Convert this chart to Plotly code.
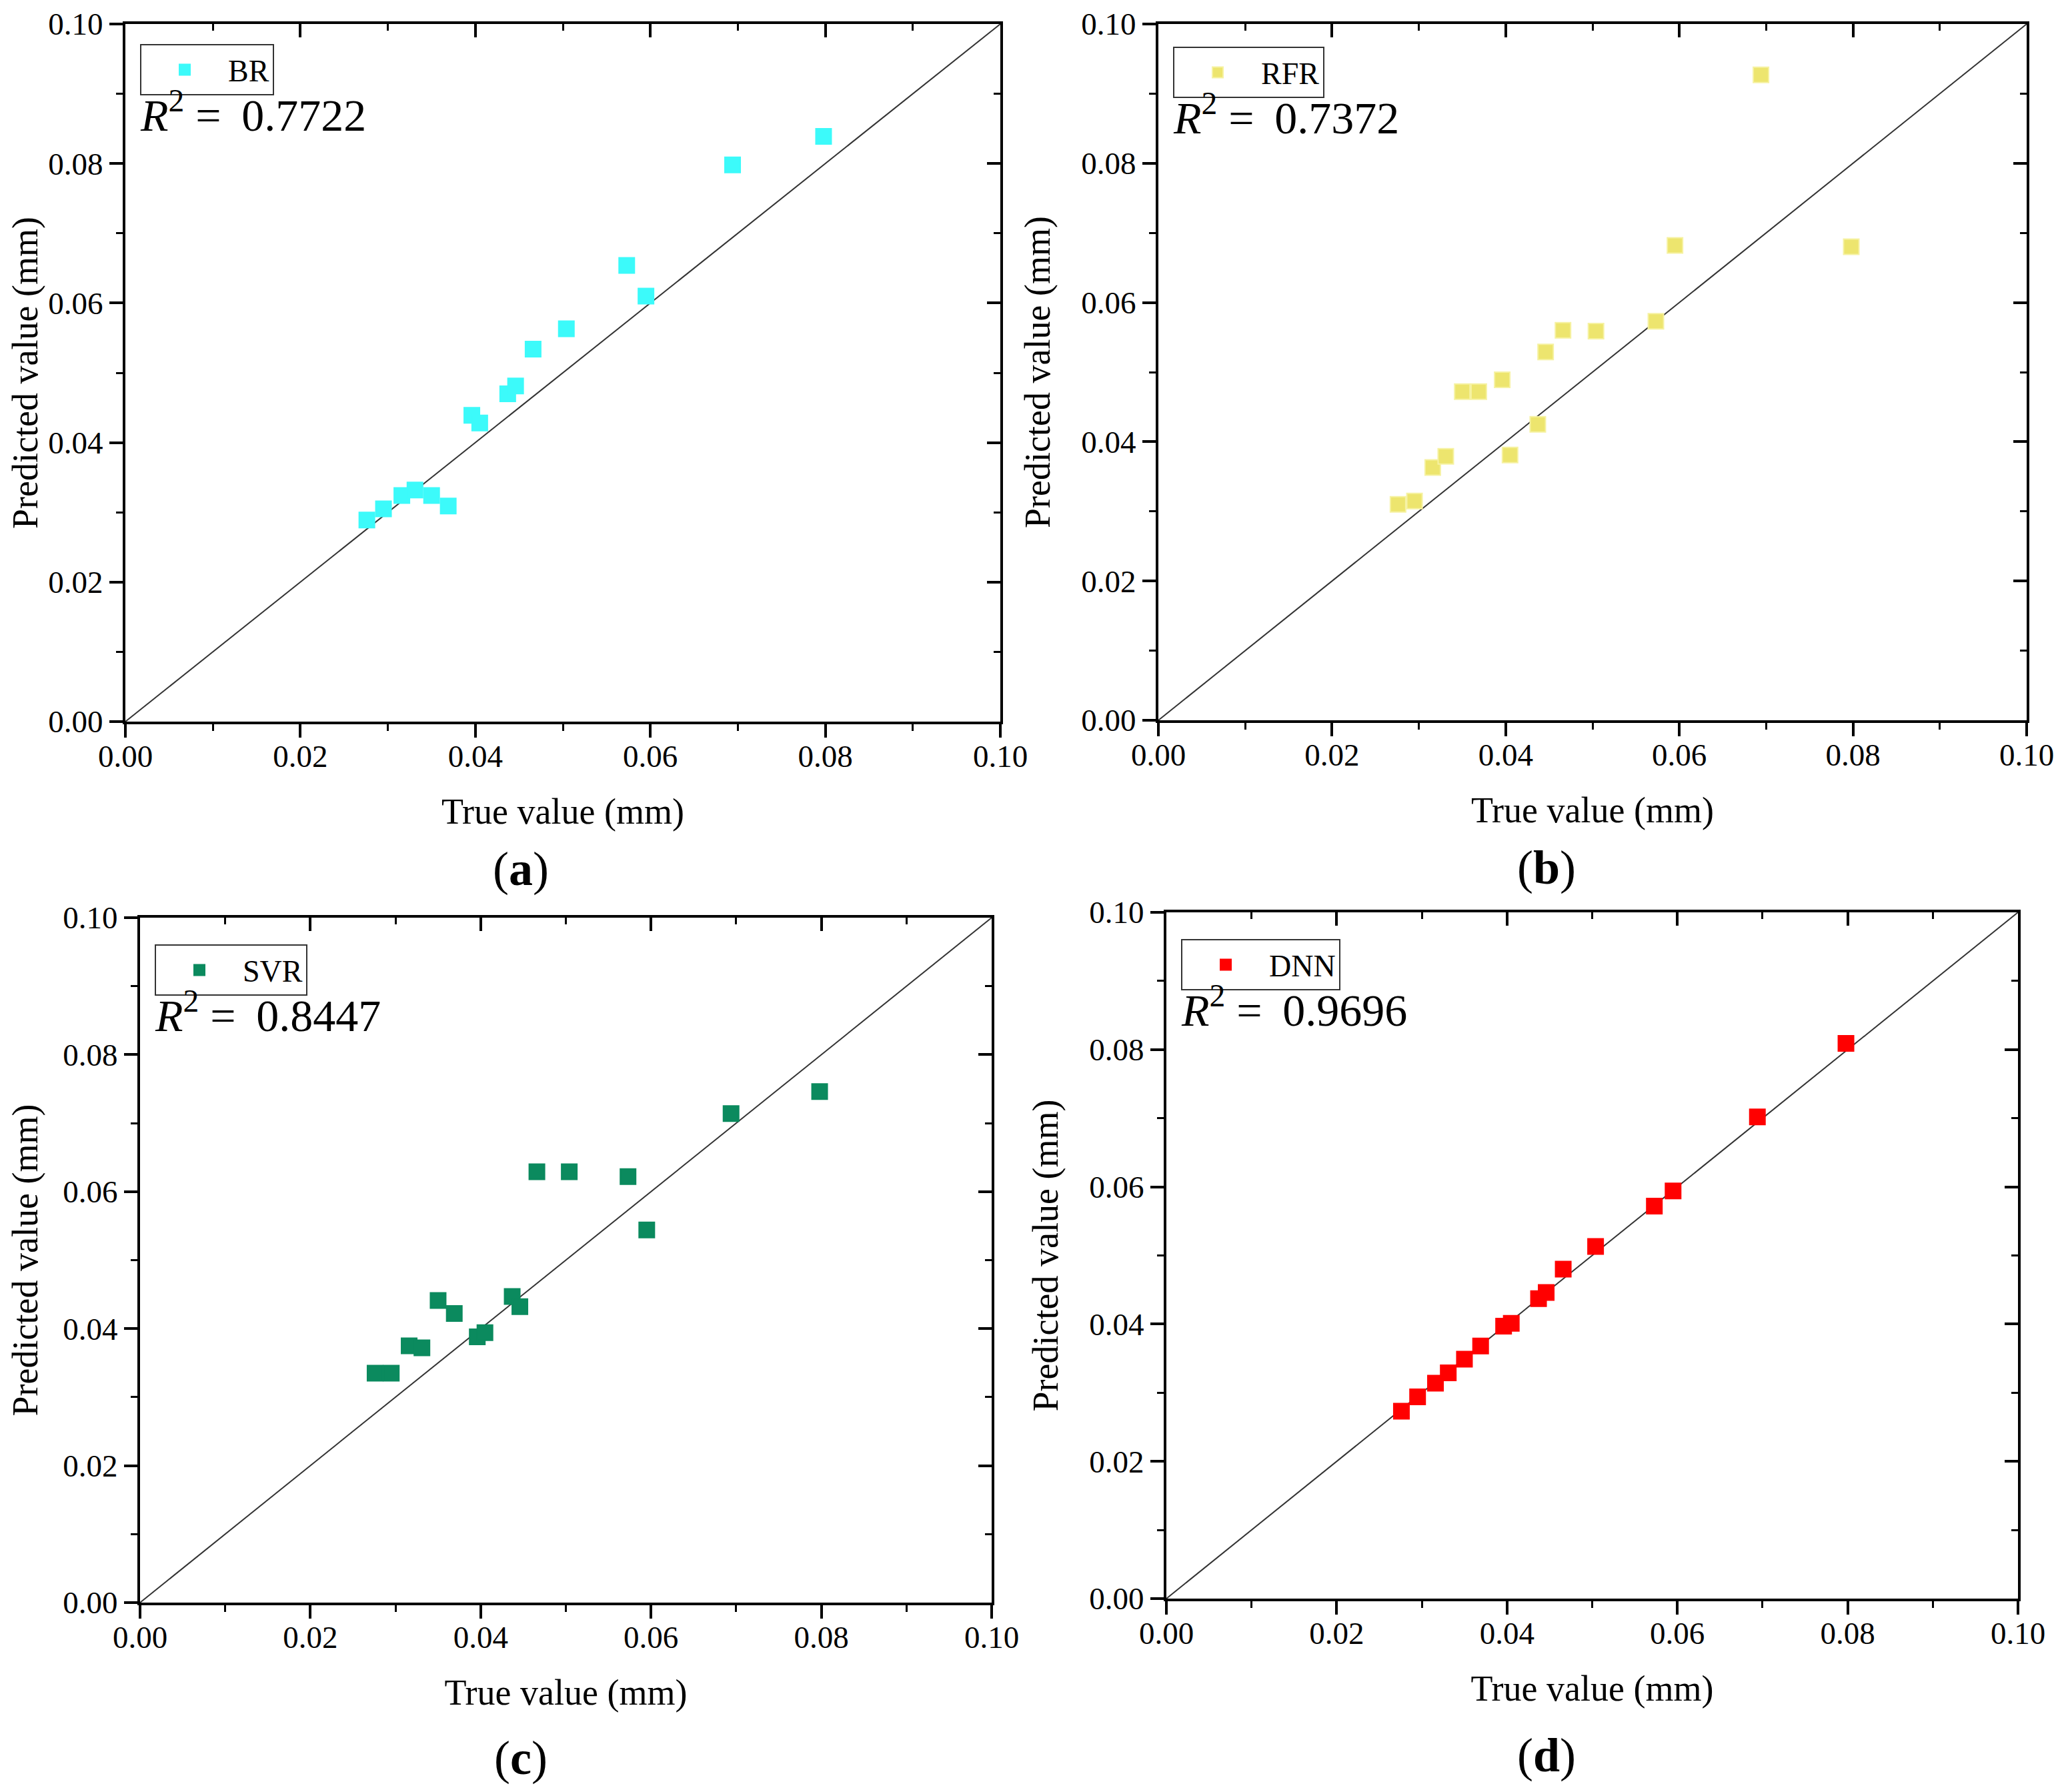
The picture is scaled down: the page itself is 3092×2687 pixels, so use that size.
import plotly.graph_objects as go

# true values shared by all four models (mm)
true_vals = [0.0276, 0.0295, 0.0316, 0.0331, 0.0350, 0.0369, 0.0396, 0.0405,
             0.0437, 0.0446, 0.0466, 0.0504, 0.0573, 0.0595, 0.0694, 0.0798]

br_pred = [0.0289, 0.0305, 0.0324, 0.0332, 0.0324, 0.0309, 0.0439, 0.0428,
           0.0470, 0.0481, 0.0534, 0.0563, 0.0654, 0.0610, 0.0798, 0.0839]
rfr_pred = [0.0310, 0.0315, 0.0363, 0.0379, 0.0472, 0.0472, 0.0489, 0.0381,
            0.0425, 0.0529, 0.0560, 0.0559, 0.0573, 0.0682, 0.0927, 0.0680]
svr_pred = [0.0335, 0.0335, 0.0375, 0.0372, 0.0441, 0.0422, 0.0388, 0.0394,
            0.0447, 0.0432, 0.0629, 0.0629, 0.0622, 0.0544, 0.0714, 0.0746]
dnn_pred = [0.0273, 0.0294, 0.0314, 0.0329, 0.0349, 0.0368, 0.0397, 0.0401,
            0.0437, 0.0446, 0.0480, 0.0513, 0.0572, 0.0594, 0.0702, 0.0809]

model_names = ["BR", "RFR", "SVR", "DNN"]
r2_values = ["0.7722", "0.7372", "0.8447", "0.9696"]
panel_labels = ["a", "b", "c", "d"]
ideal_line = [0.0, 0.1]
axis_range = [0.0, 0.1]

# page body has an 8px margin, so the figure is drawn 8px smaller on each side
PAD = 8
W, H = 3092 - 2 * PAD, 2687 - 2 * PAD
FONT = "Liberation Serif"
MIN_TOP = 36  # keep the top tick label inside the page

# plot boxes in window pixels: left, right, top, bottom
boxes = [(188, 1500, 26, 1082), (1737, 3039, 30, 1080),
         (210, 1487, 1376, 2403), (1749, 3026, 1368, 2397)]
label_pos = [(781, 1303), (2319, 1301), (781, 2636), (2319, 2632)]
fills = ["#3CFAFA", "#EDE56E", "#0B8A5E", "#FF0000"]
edges = ["#3CFAFA", "#F6F2A2", "#0B8A5E", "#FF0000"]

preds = [br_pred, rfr_pred, svr_pred, dnn_pred]


def px(x):
    return (x - PAD) / W


def py(y):
    return 1 - (y - PAD) / H


fig = go.Figure()
layout = dict(width=W, height=H, margin=dict(l=0, r=0, t=0, b=0, autoexpand=False),
              paper_bgcolor="white", plot_bgcolor="white",
              font=dict(family=FONT, color="black"), annotations=[])

for i in range(4):
    n = i + 1
    m = i + 5
    l, r, t, b = boxes[i]
    xd = [px(l), px(r)]
    yd = [py(b), py(max(t, MIN_TOP))]

    # y = x reference line on the main axes
    fig.add_trace(go.Scatter(x=ideal_line, y=ideal_line, mode="lines",
                             line=dict(color="#333333", width=2),
                             xaxis="x%d" % n, yaxis="y%d" % n,
                             showlegend=False, hoverinfo="skip"))
    # model points on overlay axes so they sit above the line
    fig.add_trace(go.Scatter(x=true_vals, y=preds[i], mode="markers",
                             name=model_names[i],
                             marker=dict(symbol="square", size=23, color=fills[i],
                                         line=dict(color=edges[i], width=2)),
                             xaxis="x%d" % m, yaxis="y%d" % m,
                             legend="legend" if n == 1 else "legend%d" % n))

    common = dict(range=axis_range, dtick=0.02, tick0=0, tickformat=".2f",
                  showgrid=False, zeroline=False, tickcolor="black",
                  tickwidth=4, ticklen=20, automargin=False,
                  ticklabeloverflow="allow",
                  tickfont=dict(family=FONT, size=47, color="black"))
    minor_out = dict(dtick=0.01, ticks="outside", ticklen=10, tickwidth=3,
                     tickcolor="black", showgrid=False)
    minor_in = dict(dtick=0.01, ticks="inside", ticklen=10, tickwidth=3,
                    tickcolor="black", showgrid=False)

    layout["xaxis%d" % n] = dict(common, domain=xd, anchor="y%d" % n,
                                 ticks="outside", showline=True, linewidth=4,
                                 linecolor="black", mirror=True, minor=minor_out,
                                 ticklabelstandoff=-12,
                                 title=dict(text="True value (mm)", standoff=39,
                                            font=dict(family=FONT, size=54)))
    layout["yaxis%d" % n] = dict(common, domain=yd, anchor="x%d" % n,
                                 ticks="outside", showline=True, linewidth=4,
                                 linecolor="black", mirror=True, minor=minor_out,
                                 title=dict(text="Predicted value (mm)", standoff=30,
                                            font=dict(family=FONT, size=54)))
    layout["xaxis%d" % m] = dict(common, overlaying="x%d" % n, anchor="y%d" % m,
                                 side="top", ticks="inside", showticklabels=False,
                                 showline=False, minor=minor_in)
    layout["yaxis%d" % m] = dict(common, overlaying="y%d" % n, anchor="x%d" % m,
                                 side="right", ticks="inside", showticklabels=False,
                                 showline=False, minor=minor_in)

    leg = dict(x=px(l + 22), y=py(t + 40), xanchor="left", yanchor="top",
               bordercolor="#333333", borderwidth=2, bgcolor="rgba(0,0,0,0)",
               font=dict(family=FONT, size=46, color="black"), itemwidth=120)
    layout["legend" if n == 1 else "legend%d" % n] = leg

    layout["annotations"].append(dict(
        x=px(l + 20), y=py(t + 142), xref="paper", yref="paper",
        xanchor="left", yanchor="middle", showarrow=False,
        text="<i>R</i><sup>2</sup> =\u2009 " + r2_values[i],
        font=dict(family=FONT, size=68, color="black")))
    lx, ly = label_pos[i]
    layout["annotations"].append(dict(
        x=px(lx), y=py(ly), xref="paper", yref="paper",
        xanchor="center", yanchor="middle", showarrow=False,
        text="(<b>%s</b>)" % panel_labels[i],
        font=dict(family=FONT, size=72, color="black")))

fig.update_layout(layout)
fig.write_html("out.html")
